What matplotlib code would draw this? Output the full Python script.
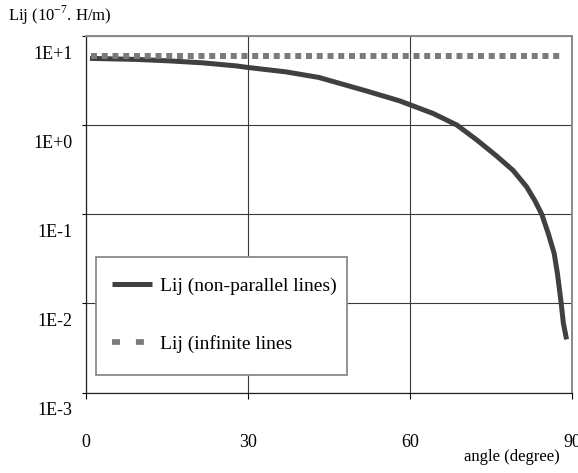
import matplotlib
matplotlib.use("Agg")
import matplotlib.pyplot as plt
from matplotlib.lines import Line2D
from matplotlib.patches import Rectangle
from matplotlib.transforms import ScaledTranslation

plt.rcParams['font.family'] = ['Liberation Serif', 'DejaVu Serif']
plt.rcParams['mathtext.fontset'] = 'custom'
plt.rcParams['mathtext.rm'] = 'Liberation Serif'

# data
angle_np = [1.2, 9.3, 15.4, 21.6, 27.8, 29.9, 37.0, 43.1, 52.0, 58.1, 64.3, 68.7, 72.4,
            76.1, 79.1, 81.6, 83.1, 84.4, 85.6, 86.7, 87.3, 88.0, 88.4, 88.9]
lij_np = [5.60, 5.46, 5.26, 5.00, 4.62, 4.44, 3.96, 3.43, 2.41, 1.87, 1.35, 1.00, 0.68,
          0.447, 0.31, 0.203, 0.143, 0.100, 0.061, 0.0364, 0.0217, 0.0100, 0.0060, 0.0042]
angle_inf = [1, 88.6]
lij_inf = [5.9, 5.9]

x_ticks = [0, 30, 60, 90]
y_ticks = [1e-3, 1e-2, 1e-1, 1e0, 1e1]
y_labels = ['1E-3', '1E-2', '1E-1', '1E+0', '1E+1']

W, H = 578, 473
fig = plt.figure(figsize=(W / 100, H / 100), dpi=100)
ax = fig.add_axes([86 / W, 1 - 392.5 / H, (572 - 86) / W, (392.5 - 36) / H])

ax.plot(angle_np, lij_np, color='#404040', lw=3.6, solid_joinstyle='round', zorder=3)
ax.plot(angle_inf, lij_inf, color='#7a7a7a', lw=4.3, linestyle=(0, (1.0, 0.8)), zorder=4)

ax.set_yscale('log')
ax.set_xlim(0, 90)
ax.set_ylim(1e-3, 1e1)
ax.set_xticks(x_ticks)
ax.set_yticks(y_ticks, y_labels)
ax.minorticks_off()

ax.grid(True, color='#3a3a3a', lw=0.8)
ax.set_axisbelow(True)

for s in ['left', 'bottom']:
    ax.spines[s].set_color('#222222')
    ax.spines[s].set_linewidth(0.9)
for s in ['top', 'right']:
    ax.spines[s].set_color('#8a8a8a')
    ax.spines[s].set_linewidth(1.4)

ax.tick_params(axis='x', direction='out', length=4.3, width=0.8, pad=25.5, labelsize=13)
ax.tick_params(axis='y', direction='out', length=3, width=0.8, pad=6.5, labelsize=13)

# y tick labels sit a bit below their gridlines
shift = ScaledTranslation(0, -0.16, fig.dpi_scale_trans)
for lab in ax.get_yticklabels():
    lab.set_transform(lab.get_transform() + shift)

fig.text(8 / W, 1 - 15 / H, r'Lij (10$^{\mathrm{-7}}$. H/m)', fontsize=12, va='center', ha='left')
fig.text(512 / W, 1 - 457 / H, 'angle (degree)', fontsize=12, va='center', ha='center')

# legend box drawn by hand so its padding can differ per side
box = Rectangle((95.7 / W, 1 - 375 / H), (347 - 95.7) / W, (375 - 256.7) / H,
                transform=fig.transFigure, facecolor='white', edgecolor='#8a8a8a',
                lw=1.3, zorder=9, clip_on=False)
ax.add_patch(box)

handles = [
    Line2D([], [], color='#404040', lw=3.6, solid_capstyle='butt'),
    Line2D([], [], color='#7a7a7a', lw=4.1, linestyle=(0, (1.4, 2.8)), dash_capstyle='butt'),
]
labels = ['Lij (non-parallel lines)', 'Lij (infinite lines']
leg = ax.legend(handles, labels, loc='upper left',
                bbox_to_anchor=(112 / W, 1 - 277.5 / H), bbox_transform=fig.transFigure,
                borderaxespad=0, fontsize=14, frameon=False, borderpad=0,
                handlelength=2.06, handletextpad=0.4, labelspacing=2.05)
leg.set_zorder(10)

fig.savefig('out.png', dpi=100)
